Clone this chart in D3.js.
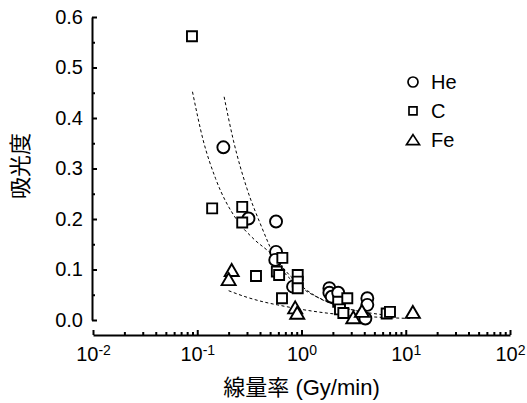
<!DOCTYPE html>
<meta charset="utf-8">
<style>
body { margin: 0; background: #fff; }
svg { font-family: "Liberation Sans", Arial, "Noto Sans CJK JP", sans-serif; }
.axis path, .axis line { fill: none; stroke: #000; stroke-width: 2; }
.axis text { font-size: 20px; fill: #000; }
</style>
<body>
<div id="chart"></div>
<script src="https://d3js.org/d3.v7.min.js"></script>
<script>

// series (dose rate Gy/min, absorbance)
var heX = [0.178, 0.31, 0.57, 0.57, 0.56, 0.83, 1.85, 1.85, 1.95, 2.25, 4.28, 4.28, 4.1];
var heY = [0.342, 0.201, 0.195, 0.135, 0.119, 0.066, 0.063, 0.054, 0.046, 0.054, 0.043, 0.030, 0.003];

var cX = [0.089, 0.139, 0.27, 0.27, 0.655, 0.58, 0.61, 0.366, 0.92, 0.92, 0.92, 0.65, 2.25, 2.75, 2.34, 2.52, 6.56, 7.06];
var cY = [0.562, 0.221, 0.224, 0.193, 0.123, 0.096, 0.089, 0.087, 0.089, 0.076, 0.063, 0.043, 0.036, 0.043, 0.021, 0.014, 0.013, 0.016];

var feX = [0.214, 0.2, 0.87, 0.91, 3.14, 3.8, 11.7];
var feY = [0.099, 0.081, 0.025, 0.0145, 0.0053, 0.018, 0.016];

// dashed fit curves
var cFitX = [0.09, 0.114, 0.15, 0.24, 0.35, 0.5, 0.8, 1.4, 2.5, 4.5, 7];
var cFitY = [0.452, 0.356, 0.28, 0.198, 0.16, 0.133, 0.085, 0.046, 0.025, 0.014, 0.009];
var heFitX = [0.181, 0.222, 0.3, 0.4, 0.622, 1.0, 1.61, 2.5, 4.3];
var heFitY = [0.442, 0.356, 0.26, 0.192, 0.106, 0.064, 0.04, 0.025, 0.014];
var feFitX = [0.2, 0.3, 0.45, 0.62, 1.0, 1.87, 3, 5, 8, 11.7];
var feFitY = [0.058, 0.045, 0.035, 0.029, 0.021, 0.013, 0.009, 0.006, 0.004, 0.003];

var seriesNames = ["He", "C", "Fe"];
var yTicks = [0, 0.1, 0.2, 0.3, 0.4, 0.5, 0.6];
var xTicks = [0.01, 0.1, 1, 10, 100];
var xExp = ["-2", "-1", "0", "1", "2"];

var width = 527, height = 403;

var svg = d3.select("#chart").append("svg")
    .attr("width", width)
    .attr("height", height);

var x = d3.scaleLog().domain([0.01, 100]).range([93, 510]);
var y = d3.scaleLinear().domain([0, 0.6]).range([320, 17]);

// y axis
svg.append("g")
    .attr("class", "axis")
    .attr("transform", "translate(92,0)")
    .call(d3.axisLeft(y).tickValues(yTicks).tickSize(-5).tickSizeOuter(0).tickPadding(9)
      .tickFormat(d3.format(".1f")));

svg.append("g")
    .attr("class", "axis")
    .attr("transform", "translate(92,0)")
    .call(d3.axisLeft(y).tickValues(d3.range(0.05, 0.6, 0.1)).tickSize(-3).tickSizeOuter(0).tickFormat(""))
    .select(".domain").remove();

// x axis
var xAxisY = 335;
var xAxis = svg.append("g")
    .attr("class", "axis")
    .attr("transform", "translate(0," + xAxisY + ")")
    .call(d3.axisBottom(x).tickValues(xTicks).tickSize(-5).tickSizeOuter(0).tickPadding(12)
      .tickFormat(function() { return ""; }));

xAxis.selectAll(".tick text").each(function(d, i) {
  var t = d3.select(this).attr("dy", "0.71em");
  t.append("tspan").text("10");
  t.append("tspan").attr("dy", "-0.45em").style("font-size", "14px").text(xExp[i]);
});

var minor = [];
[0.01, 0.1, 1, 10].forEach(function(dec) {
  for (var k = 2; k <= 9; k++) minor.push(dec * k);
});
svg.append("g")
    .attr("class", "axis")
    .attr("transform", "translate(0," + xAxisY + ")")
    .call(d3.axisBottom(x).tickValues(minor).tickSize(-3).tickSizeOuter(0).tickFormat(""))
    .select(".domain").remove();

// axis titles
svg.append("text")
    .attr("x", (x.range()[0] + x.range()[1]) / 2)
    .attr("y", 395)
    .attr("text-anchor", "middle")
    .style("font-size", "22px")
    .text("線量率 (Gy/min)");

svg.append("text")
    .attr("transform", "translate(28,166) rotate(-90)")
    .attr("text-anchor", "middle")
    .style("font-size", "22px")
    .text("吸光度");

// fit curves
var line = d3.line()
    .x(function(d) { return x(d[0]); })
    .y(function(d) { return y(d[1]); })
    .curve(d3.curveMonotoneX);

[[cFitX, cFitY], [heFitX, heFitY], [feFitX, feFitY]].forEach(function(s) {
  svg.append("path")
      .datum(d3.zip(s[0], s[1]))
      .attr("d", line)
      .attr("fill", "none")
      .attr("stroke", "#000")
      .attr("stroke-width", 1)
      .attr("stroke-dasharray", "3,2.5");
});

// marker shapes
function circlePath(r) {
  return "M" + r + ",0A" + r + "," + r + " 0 1,1 " + (-r) + ",0A" + r + "," + r + " 0 1,1 " + r + ",0Z";
}
function squarePath(s) {
  var h = s / 2;
  return "M" + (-h) + "," + (-h) + "H" + h + "V" + h + "H" + (-h) + "Z";
}
function trianglePath(w, hgt) {
  return "M0," + (-hgt / 2) + "L" + (w / 2) + "," + (hgt / 2) + "L" + (-w / 2) + "," + (hgt / 2) + "Z";
}

var shapes = [circlePath(6), squarePath(10), trianglePath(14, 12)];
var legendShapes = [circlePath(5), squarePath(8), trianglePath(13, 10)];
var pts = [[heX, heY], [cX, cY], [feX, feY]];

pts.forEach(function(s, i) {
  svg.append("g")
    .selectAll("path")
    .data(d3.zip(s[0], s[1]))
    .enter().append("path")
      .attr("d", shapes[i])
      .attr("transform", function(d) { return "translate(" + x(d[0]) + "," + y(d[1]) + ")"; })
      .attr("fill", "#fff")
      .attr("stroke", "#000")
      .attr("stroke-width", 1.9);
});

// legend
var legend = svg.append("g").attr("transform", "translate(413,82)");
seriesNames.forEach(function(name, i) {
  var g = legend.append("g").attr("transform", "translate(0," + (i * 28.8) + ")");
  g.append("path")
      .attr("d", legendShapes[i])
      .attr("fill", "#fff")
      .attr("stroke", "#000")
      .attr("stroke-width", 1.7);
  g.append("text")
      .attr("x", 18)
      .attr("dy", "0.36em")
      .style("font-size", "20px")
      .text(name);
});

</script>
</body>
